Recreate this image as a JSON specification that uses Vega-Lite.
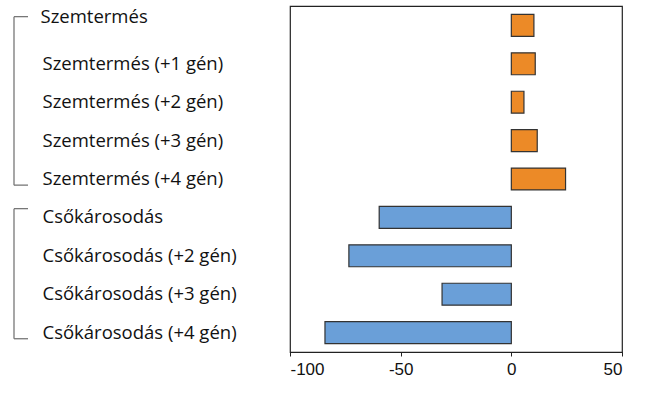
{
  "$schema": "https://vega.github.io/schema/vega-lite/v6.json",
  "width": 332,
  "height": 346,
  "autosize": {"type": "none"},
  "padding": {"left": 290, "top": 6, "right": 27, "bottom": 44},
  "background": "white",
  "config": {
    "view": {"stroke": "#222", "strokeWidth": 1.2},
    "font": "Liberation Sans"
  },
  "datasets": {
    "bars": [
      {"label": "Szemtermés", "value": 10.2, "group": "Szemtermés"},
      {"label": "Szemtermés (+1 gén)", "value": 10.8, "group": "Szemtermés"},
      {"label": "Szemtermés (+2 gén)", "value": 5.7, "group": "Szemtermés"},
      {"label": "Szemtermés (+3 gén)", "value": 11.7, "group": "Szemtermés"},
      {"label": "Szemtermés (+4 gén)", "value": 24.5, "group": "Szemtermés"},
      {"label": "Csőkárosodás", "value": -59.7, "group": "Csőkárosodás"},
      {"label": "Csőkárosodás (+2 gén)", "value": -73.4, "group": "Csőkárosodás"},
      {"label": "Csőkárosodás (+3 gén)", "value": -31.3, "group": "Csőkárosodás"},
      {"label": "Csőkárosodás (+4 gén)", "value": -84.2, "group": "Csőkárosodás"}
    ],
    "brackets": [
      {"from": "Szemtermés", "to": "Szemtermés (+4 gén)"},
      {"from": "Csőkárosodás", "to": "Csőkárosodás (+4 gén)"}
    ]
  },
  "layer": [
    {
      "data": {"name": "bars"},
      "mark": {"type": "bar", "stroke": "#333", "strokeWidth": 1.2},
      "encoding": {
        "y": {
          "field": "label",
          "type": "nominal",
          "scale": {
            "domain": ["Szemtermés", "Szemtermés (+1 gén)", "Szemtermés (+2 gén)", "Szemtermés (+3 gén)", "Szemtermés (+4 gén)", "Csőkárosodás", "Csőkárosodás (+2 gén)", "Csőkárosodás (+3 gén)", "Csőkárosodás (+4 gén)"],
            "paddingInner": 0.43,
            "paddingOuter": 0.22
          },
          "axis": {
            "title": null,
            "ticks": false,
            "domain": false,
            "labelAlign": "left",
            "labelPadding": {"condition": {"test": "datum.value === 'Szemtermés'", "value": 250}, "value": 248},
            "labelOffset": {"condition": {"test": "datum.value === 'Szemtermés'", "value": -8}, "value": 0},
            "labelFont": "Open Sans",
            "labelFontSize": 18.5,
            "labelColor": "#111",
            "labelLimit": 300
          }
        },
        "x": {
          "field": "value",
          "type": "quantitative",
          "scale": {"domain": [-100, 50], "nice": false},
          "axis": {
            "title": null,
            "values": [-100, -50, 0, 50],
            "labelExpr": "'' + datum.value",
            "grid": false,
            "domainColor": "#222",
            "domainWidth": 1.2,
            "tickColor": "#222",
            "tickSize": 4,
            "labelFont": "Liberation Sans",
            "labelFontSize": 17,
            "labelColor": "#111",
            "labelPadding": 5
          }
        },
        "color": {
          "field": "group",
          "type": "nominal",
          "scale": {"domain": ["Szemtermés", "Csőkárosodás"], "range": ["#EC8A27", "#6A9FD8"]},
          "legend": null
        }
      }
    },
    {
      "mark": {"type": "rule", "color": "#111", "strokeWidth": 1.2},
      "encoding": {"x": {"datum": 0}}
    },
    {
      "data": {"name": "brackets"},
      "mark": {"type": "rule", "color": "#777", "strokeWidth": 1.3, "clip": false},
      "encoding": {
        "y": {"field": "from", "type": "nominal", "bandPosition": 0.1},
        "y2": {"field": "to", "bandPosition": 0.78},
        "x": {"value": -276}
      }
    },
    {
      "data": {"name": "brackets"},
      "mark": {"type": "rule", "color": "#777", "strokeWidth": 1.3, "clip": false},
      "encoding": {
        "y": {"field": "from", "type": "nominal", "bandPosition": 0.1},
        "x": {"value": -276},
        "x2": {"value": -262}
      }
    },
    {
      "data": {"name": "brackets"},
      "mark": {"type": "rule", "color": "#777", "strokeWidth": 1.3, "clip": false},
      "encoding": {
        "y": {"field": "to", "type": "nominal", "bandPosition": 0.78},
        "x": {"value": -276},
        "x2": {"value": -262}
      }
    }
  ]
}
